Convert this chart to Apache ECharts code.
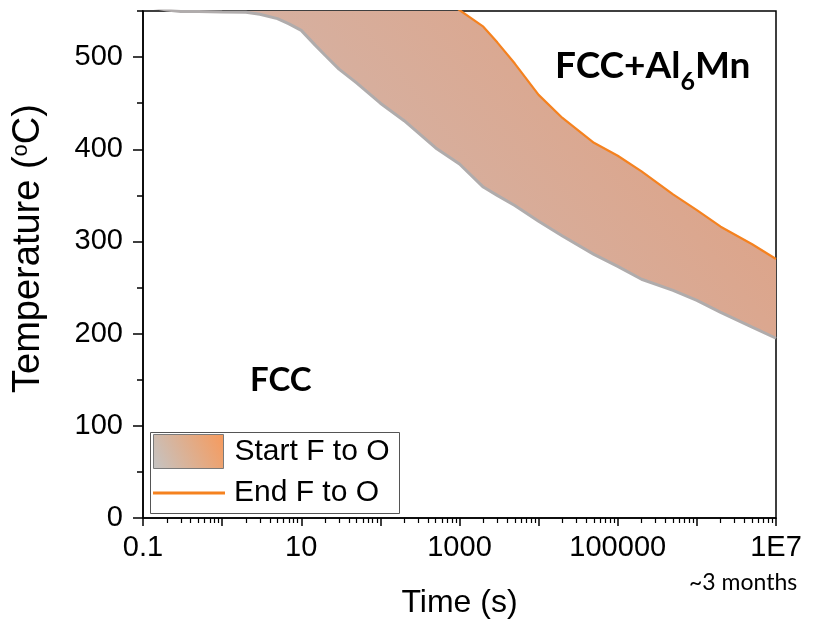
<!DOCTYPE html>
<html>
<head>
<meta charset="utf-8">
<script src="https://cdn.jsdelivr.net/npm/echarts@6/dist/echarts.min.js"></script>
<style>
html,body{margin:0;padding:0;background:#fff;}
#chart{width:820px;height:624px;}
</style>
</head>
<body>
<div id="chart"></div>
<script>
// ---- data ----
const times = [0.1,0.2,0.3,0.5,1,2,3,5,7,10,15,20,30,50,100,200,500,1000,2000,3000,5000,1e4,2e4,5e4,1e5,2e5,5e5,1e6,2e6,5e6,1e7];
// lower boundary of the band (start of F to O), degC
const startTemp = [556,551,549.5,549.4,549,548.7,546.5,541.7,536,529,513,502,487,472,450,431,401.5,384,359,350,339,322,306,286,273,259,247,236,223,207,195];
// upper boundary (end of F to O), degC (values above 550 lie outside the plot)
const endTemp = [900,880,870,855,830,800,785,765,752,740,715,700,680,655,625,600,568,551,533,516,493,459,434,407,393,376,351,334,316,297,281];

const xTickValues = [0.1,10,1000,100000,1e7];
const xTickLabels = ['0.1','10','1000','100000','1E7'];
const xMidTicks = [0.1,1,10,100,1000,1e4,1e5,1e6,1e7];
const yTickValues = [0,100,200,300,400,500];
const yMinorTicks = [50,150,250,350,450,550];

// minor (2..9 per decade) tick positions for the log axis
const xMinorTicks = [];
for (let d = -1; d < 7; d++) {
  for (let m = 2; m <= 9; m++) xMinorTicks.push(m * Math.pow(10, d));
}

const bandRows = times.map((t, i) => [t, startTemp[i], endTemp[i]]);
const baseData = times.map((t, i) => [t, startTemp[i]]);
const endData = times.map((t, i) => [t, endTemp[i]]);

const FONT = 'Liberation Sans, Arial, sans-serif';
const ANN = 'Lato, "Open Sans", sans-serif';
const ORANGE = '#f5821f';

function xLabel(v) {
  let best = 0, bd = Infinity;
  xTickValues.forEach((tv, i) => {
    const d = Math.abs(Math.log10(v) - Math.log10(tv));
    if (d < bd) { bd = d; best = i; }
  });
  return xTickLabels[best];
}

const bandGradient = {type: 'linear', x: 143, y: 520, x2: 776, y2: 11, global: true,
  colorStops: [{offset: 0, color: '#cfc1bd'}, {offset: 0.5, color: '#d6b0a0'}, {offset: 1, color: '#e09e7e'}]};

// band polygon: upper boundary forward, lower boundary backward
function renderBand(params, api) {
  if (params.dataIndex !== 0) return null;
  const pts = [];
  for (let i = 0; i < bandRows.length; i++) pts.push(api.coord([bandRows[i][0], bandRows[i][2]]));
  for (let i = bandRows.length - 1; i >= 0; i--) pts.push(api.coord([bandRows[i][0], bandRows[i][1]]));
  return {type: 'polygon', shape: {points: pts}, style: {fill: bandGradient, stroke: null}};
}

const chart = echarts.init(document.getElementById('chart'), null, {renderer: 'canvas'});

const option = {
  animation: false,
  backgroundColor: '#fff',
  grid: {left: 143, top: 11, width: 633, height: 509, show: true, borderColor: '#000', borderWidth: 1.5, backgroundColor: 'transparent'},
  xAxis: [
    {
      type: 'log', logBase: 10, min: 0.1, max: 1e7,
      name: 'Time (s)', nameLocation: 'middle', nameGap: 69,
      nameTextStyle: {fontFamily: FONT, fontSize: 32, color: '#000'},
      axisLine: {show: true, lineStyle: {color: '#000', width: 1.5}},
      axisTick: {show: true, customValues: xMidTicks, length: 8, inside: false, lineStyle: {color: '#000', width: 1.5}},
      axisLabel: {show: true, customValues: xTickValues, formatter: xLabel, margin: 15, fontFamily: FONT, fontSize: 29, color: '#000'},
      splitLine: {show: false},
      minorTick: {show: false}
    },
    {
      type: 'log', logBase: 10, min: 0.1, max: 1e7, gridIndex: 0, position: 'bottom',
      axisLine: {show: false},
      axisTick: {show: true, customValues: xMinorTicks, length: 5, lineStyle: {color: '#000', width: 1.2}},
      axisLabel: {show: false},
      splitLine: {show: false}
    }
  ],
  yAxis: [
    {
      type: 'value', min: 0, max: 550, interval: 100,
      name: 'Temperature ({s|o}C)', nameLocation: 'middle', nameGap: 95,
      nameTextStyle: {fontFamily: FONT, fontSize: 38, color: '#000', padding: [0, 0, 0, 32],
        rich: {s: {fontFamily: FONT, fontSize: 22, verticalAlign: 'top', color: '#000'}}},
      axisLine: {show: true, lineStyle: {color: '#000', width: 1.5}},
      axisTick: {show: true, customValues: yTickValues, length: 10, lineStyle: {color: '#000', width: 1.5}},
      axisLabel: {show: true, customValues: yTickValues, margin: 20, fontFamily: FONT, fontSize: 29, color: '#000'},
      splitLine: {show: false}
    },
    {
      type: 'value', min: 0, max: 550, gridIndex: 0, position: 'left',
      axisLine: {show: false},
      axisTick: {show: true, customValues: yMinorTicks, length: 6, lineStyle: {color: '#000', width: 1.5}},
      axisLabel: {show: false},
      splitLine: {show: false}
    }
  ],
  legend: [
    {
      left: 153, top: 434, itemWidth: 70, itemHeight: 34, padding: 0,
      selectedMode: false,
      textStyle: {fontFamily: FONT, fontSize: 30, color: '#000', padding: [0, 0, 0, 6]},
      data: [{
        name: 'Start F to O', icon: 'rect',
        itemStyle: {
          color: {type: 'linear', x: 0, y: 1, x2: 1, y2: 0, colorStops: [{offset: 0, color: '#c4c4c4'}, {offset: 1, color: '#f79a5c'}]},
          borderColor: '#7a7a7a', borderWidth: 1
        }
      }]
    },
    {
      left: 153, top: 478, itemWidth: 72, itemHeight: 3, padding: 0,
      selectedMode: false,
      textStyle: {fontFamily: FONT, fontSize: 30, color: '#000', padding: [0, 0, 0, 4]},
      data: [{name: 'End F to O', icon: 'rect', itemStyle: {color: ORANGE, borderWidth: 0}}]
    }
  ],
  series: [
    {
      name: 'Start F to O', type: 'custom', coordinateSystem: 'cartesian2d', xAxisIndex: 0, yAxisIndex: 0,
      clip: true, z: 2,
      data: bandRows,
      encode: {x: 0, y: [1, 2]},
      itemStyle: {color: '#dca88e'},
      renderItem: renderBand
    },
    {
      name: 'base', type: 'line', xAxisIndex: 0, yAxisIndex: 0,
      data: baseData, symbol: 'none', z: 4,
      lineStyle: {color: '#b0acac', width: 3}
    },
    {
      name: 'End F to O', type: 'line', xAxisIndex: 0, yAxisIndex: 0,
      data: endData, symbol: 'none', z: 5,
      itemStyle: {color: ORANGE},
      lineStyle: {color: ORANGE, width: 2.2}
    }
  ],
  graphic: [
    {type: 'rect', left: 150, top: 432, shape: {width: 249, height: 81}, z: 50, silent: true,
      style: {fill: 'rgba(255,255,255,0)', stroke: '#555', lineWidth: 1}},
    {type: 'text', left: 250, top: 364, z: 60, silent: true,
      style: {text: 'FCC', fontFamily: ANN, fontWeight: 'bold', fontSize: 33, fill: '#000'}},
    {type: 'text', left: 555, top: 48, z: 60, silent: true,
      style: {text: '{m|FCC+Al}{s|6}{m|Mn}', fill: '#000',
        rich: {
          m: {fontFamily: ANN, fontWeight: 'bold', fontSize: 37, lineHeight: 40, verticalAlign: 'top', fill: '#000'},
          s: {fontFamily: ANN, fontWeight: 'bold', fontSize: 25, lineHeight: 25, verticalAlign: 'top', padding: [21, 0, 0, 0], fill: '#000'}
        }}},
    {type: 'text', left: 689, top: 571, z: 60, silent: true,
      style: {text: '~3 months', fontFamily: ANN, fontSize: 23, fill: '#000'}}
  ]
};
chart.setOption(option);
</script>
</body>
</html>
